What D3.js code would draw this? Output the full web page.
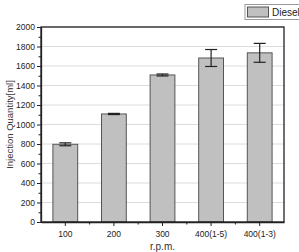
<!DOCTYPE html>
<html>
<head>
<meta charset="utf-8">
<script src="https://cdn.jsdelivr.net/npm/d3@7"></script>
<style>
  body { margin: 0; background: #fff; }
  svg { display: block; font-family: "Liberation Sans", Arial, sans-serif; }
</style>
</head>
<body>
<div id="chart"></div>
<script>
// injection quantity per rpm setting
var categories = ["100", "200", "300", "400(1-5)", "400(1-3)"];
var quantity = [797, 1108, 1508, 1682, 1735];
var errors = [15, 6, 10, 87, 97];
var yTicks = [0, 200, 400, 600, 800, 1000, 1200, 1400, 1600, 1800, 2000];
var seriesName = "Diesel";

var width = 299,
    height = 252,
    margin = { top: 27, right: 15, bottom: 30, left: 41 };

var svg = d3.select("#chart")
    .append("svg")
    .attr("width", width)
    .attr("height", height);

var x = d3.scaleBand()
    .domain(categories)
    .range([margin.left, width - margin.right])
    .paddingInner(0.49)
    .paddingOuter(0.245);

var y = d3.scaleLinear()
    .domain([0, 2000])
    .range([height - margin.bottom, margin.top]);

// grid
svg.append("g")
    .selectAll("line")
    .data(yTicks.slice(1))
    .enter()
    .append("line")
    .attr("x1", margin.left)
    .attr("x2", width - margin.right)
    .attr("y1", function (d) { return y(d); })
    .attr("y2", function (d) { return y(d); })
    .style("stroke", "#dcdcdc")
    .style("stroke-width", 1);

// bars
svg.append("g")
    .selectAll("rect")
    .data(quantity)
    .enter()
    .append("rect")
    .attr("x", function (d, i) { return x(categories[i]); })
    .attr("y", function (d) { return y(d); })
    .attr("width", x.bandwidth())
    .attr("height", function (d) { return y(0) - y(d); })
    .style("fill", "#c0c0c0")
    .style("stroke", "#555")
    .style("stroke-width", 1);

// error bars
var eb = svg.append("g")
    .selectAll("g")
    .data(quantity)
    .enter()
    .append("g")
    .style("stroke", "#222")
    .style("stroke-width", 1.2);

eb.append("line")
    .attr("x1", function (d, i) { return x(categories[i]) + x.bandwidth() / 2; })
    .attr("x2", function (d, i) { return x(categories[i]) + x.bandwidth() / 2; })
    .attr("y1", function (d, i) { return y(d + errors[i]); })
    .attr("y2", function (d, i) { return y(d - errors[i]); });

eb.append("line")
    .attr("x1", function (d, i) { return x(categories[i]) + x.bandwidth() / 2 - 6; })
    .attr("x2", function (d, i) { return x(categories[i]) + x.bandwidth() / 2 + 6; })
    .attr("y1", function (d, i) { return y(d + errors[i]); })
    .attr("y2", function (d, i) { return y(d + errors[i]); });

eb.append("line")
    .attr("x1", function (d, i) { return x(categories[i]) + x.bandwidth() / 2 - 6; })
    .attr("x2", function (d, i) { return x(categories[i]) + x.bandwidth() / 2 + 6; })
    .attr("y1", function (d, i) { return y(d - errors[i]); })
    .attr("y2", function (d, i) { return y(d - errors[i]); });

// frame
svg.append("rect")
    .attr("x", margin.left)
    .attr("y", margin.top)
    .attr("width", width - margin.right - margin.left)
    .attr("height", height - margin.bottom - margin.top)
    .style("fill", "none")
    .style("stroke", "#222")
    .style("stroke-width", 1.3);

// y axis
var yaxis = svg.append("g")
    .attr("transform", "translate(" + margin.left + ",0)")
    .call(d3.axisLeft(y).tickValues(yTicks).tickFormat(d3.format("d"))
        .tickSize(4).tickPadding(2).tickSizeOuter(0));

svg.append("g")
    .attr("transform", "translate(" + margin.left + ",0)")
    .call(d3.axisLeft(y).tickValues(d3.range(100, 2000, 200)).tickSize(2.5).tickFormat("").tickSizeOuter(0))
    .select(".domain").remove();

// x axis
var xaxis = svg.append("g")
    .attr("transform", "translate(0," + (height - margin.bottom) + ")")
    .call(d3.axisBottom(x).tickSize(4).tickPadding(5).tickSizeOuter(0));

var minorX = d3.range(1, categories.length).map(function (i) {
    return x(categories[i]) - x.step() * x.paddingInner() / 2;
});
svg.append("g")
    .selectAll("line")
    .data(minorX)
    .enter()
    .append("line")
    .attr("x1", function (d) { return d; })
    .attr("x2", function (d) { return d; })
    .attr("y1", height - margin.bottom)
    .attr("y2", height - margin.bottom + 2.5)
    .style("stroke", "#222");

svg.selectAll(".domain").style("stroke", "#222").style("stroke-width", 1.3);
svg.selectAll(".tick line").style("stroke", "#222");
svg.selectAll(".tick text").style("font-size", "8.5px").style("fill", "#222");

// axis titles
svg.append("text")
    .attr("transform", "translate(12.5," + ((margin.top + height - margin.bottom) / 2) + ") rotate(-90)")
    .attr("text-anchor", "middle")
    .style("font-size", "9.5px")
    .style("fill", "#333")
    .text("Injection Quantity[ml]");

svg.append("text")
    .attr("x", (margin.left + width - margin.right) / 2)
    .attr("y", 250)
    .attr("text-anchor", "middle")
    .style("font-size", "10px")
    .style("fill", "#333")
    .text("r.p.m.");

// legend
var legend = svg.append("g");
legend.append("rect")
    .attr("x", 245)
    .attr("y", 4.5)
    .attr("width", 60)
    .attr("height", 15)
    .style("fill", "#fff")
    .style("stroke", "#999");
legend.append("rect")
    .attr("x", 247.5)
    .attr("y", 7)
    .attr("width", 21)
    .attr("height", 10)
    .style("fill", "#c0c0c0")
    .style("stroke", "#555");
legend.append("text")
    .attr("x", 272)
    .attr("y", 16)
    .style("font-size", "10px")
    .style("fill", "#222")
    .text(seriesName);
</script>
</body>
</html>
